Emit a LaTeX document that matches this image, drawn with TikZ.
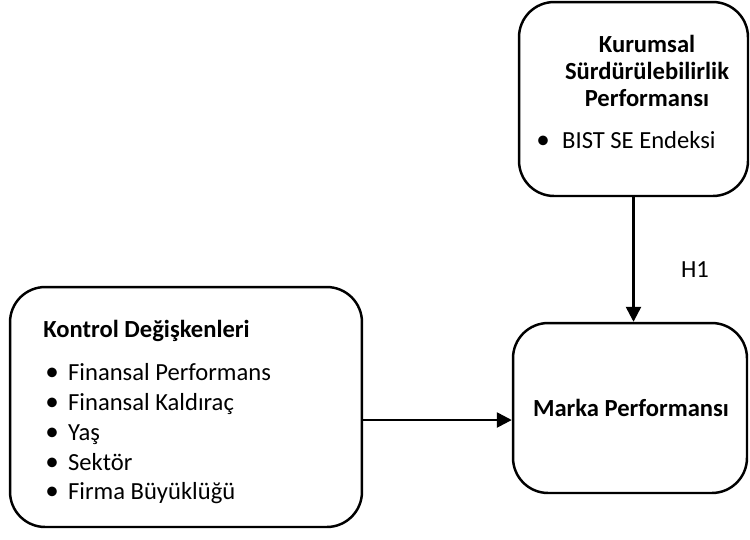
\documentclass[tikz,border=0pt]{standalone}
\usepackage{fontspec}
\usepackage{graphicx}
\setmainfont{Carlito}
\usetikzlibrary{arrows.meta}

% bullet with the gap after it
\newcommand{\blt}[1][13pt]{\makebox[#1][l]{\scalebox{1.1}{\textbullet}}}

\tikzset{
  varbox/.style={draw, line width=1.4pt, rounded corners=20pt, inner sep=0pt},
  conn/.style={line width=1.4pt, -{Triangle[length=8.5pt,width=8.5pt]}},
  lbl/.style={font=\fontsize{14}{17}\selectfont, inner sep=0pt},
  ttl/.style={font=\fontsize{14}{15.6}\selectfont\bfseries, inner sep=0pt},
}

\begin{document}
\begin{tikzpicture}[x=0.02cm, y=-0.02cm]
    \useasboundingbox (0,0) rectangle (750,539);

    % boxes
    \node[varbox, minimum width=4.58cm, minimum height=3.88cm] (kurumsal) at (633.5,99) {};
    \node[varbox, minimum width=7.04cm, minimum height=4.8cm] (kontrol) at (186,407) {};
    \node[varbox, minimum width=4.68cm, minimum height=3.4cm] (marka) at (630,408) {};

    % texts
    \node[ttl, align=center] (kurumsalT) at (647,71) {Kurumsal\\Sürdürülebilirlik\\Performansı};
    \node[lbl, anchor=base west] (bist) at (536,148) {\blt[14.7pt]BIST SE Endeksi};

    \node[ttl, anchor=base west] (kontrolT) at (43,337) {Kontrol Değişkenleri};
    \node[lbl, anchor=base west] (fp) at (45,380) {\blt Finansal Performans};
    \node[lbl, anchor=base west] (fk) at (45,410) {\blt Finansal Kaldıraç};
    \node[lbl, anchor=base west] (yas) at (45,440) {\blt Yaş};
    \node[lbl, anchor=base west] (sek) at (45,470) {\blt Sektör};
    \node[lbl, anchor=base west] (fb) at (45,499) {\blt Firma Büyüklüğü};

    \node[ttl] (markaT) at (631,408) {Marka Performansı};
    \node[lbl] (h1) at (695,270) {H1};

    % connectors
    \coordinate (hl) at (0,420);
    \draw[conn] (kurumsal.south) -- (kurumsal.south |- marka.north);
    \draw[conn] (kontrol.east |- hl) -- (marka.west |- hl);
\end{tikzpicture}
\end{document}
